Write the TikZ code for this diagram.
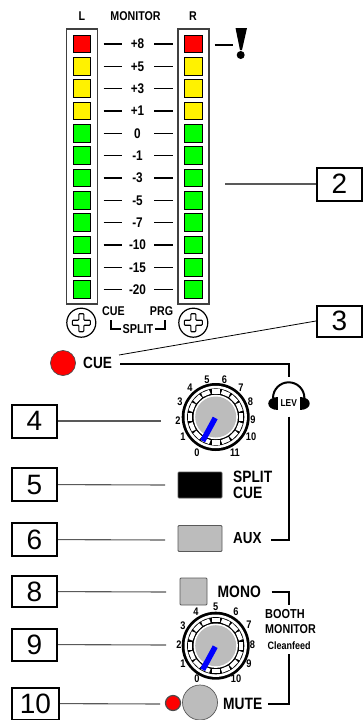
\documentclass[tikz,border=0pt]{standalone}
\usepackage{fontspec}
\setmainfont{Liberation Sans}[FakeStretch=0.84]
\newfontfamily\plainfont{Liberation Sans}
\definecolor{knobgrey}{RGB}{188,188,188}
\tikzset{
  lab/.style={font=\bfseries\fontsize{#1}{#1}\selectfont,inner sep=0pt,text=black},
  lab/.default=12.7,
  callout/.style={draw=black,line width=2pt,minimum width=45pt,inner sep=0pt,fill=white,font=\plainfont\fontsize{28}{28}\selectfont},
  leader/.style={draw=black!65,line width=1.1pt},
  bar/.style={draw=black,line width=2.2pt},
  tick/.style={draw=black,line width=1.6pt},
  meterbox/.style={draw=black!75,line width=1.1pt,fill=white,inner sep=0pt},
  ledbox/.style={draw=black,line width=1.1pt,minimum width=17.5pt,minimum height=17.5pt,inner sep=0pt},
  screw/.style={circle,draw=black,line width=1.2pt,minimum size=29pt,inner sep=0pt,fill=white},
  btn/.style={draw=black!65,line width=.9pt,inner sep=0pt,fill=knobgrey,rounded corners=1pt},
  knobnum/.style={font=\bfseries\fontsize{11}{11}\selectfont,inner sep=0pt},
}
\newcommand{\knobdraw}[3]{% x y name
  \begin{scope}[shift={(#1,#2)}]
    \fill[black] (0,0) circle (34);
    \fill[white] (0,0) circle (31.2);
    \fill[black] (0,0) circle (28.6);
    \foreach \a in {0,22.5,...,337.5}
      \fill[white,rotate=\a] (23.4,-4.2) rectangle (27.6,4.2);
    \draw[black,line width=.6pt] (0,0) circle (22.7);
    \fill[white] (0,0) circle (22.2);
    \node[circle,fill=knobgrey,minimum size=41pt,inner sep=0pt] (#3) at (0,0) {};
    \draw[blue,line width=5.5pt] (-0.5,1) -- (-13,24);
  \end{scope}
}
\begin{document}
\begin{tikzpicture}[x=1pt,y=-1pt]
\useasboundingbox (0,0) rectangle (362,720);
\fill[white] (0,0) rectangle (362,720);
% headers
\node[lab] (hL) at (82,16) {L};
\node[lab] (hM) at (135.5,16) {MONITOR};
\node[lab] (hR) at (193,16) {R};
% meters
\node[meterbox,minimum width=31pt,minimum height=275pt] (mL) at (81.8,166.5) {};
\node[meterbox,minimum width=31pt,minimum height=275pt] (mR) at (193.5,166.5) {};
\foreach \i/\c/\t in {0/red/+8,1/yellow/+5,2/yellow/+3,3/yellow/+1,4/green/0,5/green/-1,6/green/-3,7/green/-5,8/green/-7,9/green/-10,10/green/-15,11/green/-20}{
  \pgfmathsetmacro{\yy}{44+22.33*\i}
  \node[ledbox,fill=\c] (ll\i) at (81.8,\yy) {};
  \node[ledbox,fill=\c] (lr\i) at (193.5,\yy) {};
  \node[lab=14] (t\i) at (137.5,\yy) {\t};
  \coordinate (a\i) at (103.5,\yy); \coordinate (b\i) at (121.5,\yy);
  \coordinate (c\i) at (154,\yy); \coordinate (d\i) at (172.5,\yy);
  \draw[tick] (a\i) -- (b\i);
  \draw[tick] (c\i) -- (d\i);
}
% exclamation
\coordinate (e1) at (214.5,45); \coordinate (e2) at (233,45);
\draw[tick] (e1) -- (e2);
\fill[black] (235.5,28) -- (247,28) -- (242,50) -- (240,50) -- cycle;
\fill[black] (240.7,55) circle (4);
% screws
\foreach \n/\x in {sL/81.3,sR/193.3}{
  \node[screw] (\n) at (\x,322.7) {};
  \draw[black,line width=1.1pt,fill=white,rounded corners=.8pt]
    (\x-2.5,322.7-9) -- (\x+2.5,322.7-9) -- (\x+2.5,322.7-2.5) -- (\x+9,322.7-2.5) -- (\x+9,322.7+2.5) -- (\x+2.5,322.7+2.5) -- (\x+2.5,322.7+9) -- (\x-2.5,322.7+9) -- (\x-2.5,322.7+2.5) -- (\x-9,322.7+2.5) -- (\x-9,322.7-2.5) -- (\x-2.5,322.7-2.5) -- cycle;
}
\node[lab=12.7] (tcue) at (113.5,311) {CUE};
\node[lab=12.7] (tprg) at (161.5,311) {PRG};
\node[lab=12.9] (tsplit) at (138,329) {SPLIT};
\coordinate (sb1) at (111,320); \coordinate (sb2) at (111,329); \coordinate (sb3) at (121,329);
\coordinate (sb4) at (155,329); \coordinate (sb5) at (165,329); \coordinate (sb6) at (165,320);
\draw[black,line width=1.4pt] (sb1) -- (sb2) -- (sb3);
\draw[black,line width=1.4pt] (sb4) -- (sb5) -- (sb6);
% callouts top
\node[callout,minimum height=33pt] (n2) at (339.5,184) {2};
\coordinate (n2a) at (225,184);
\draw[leader] (n2a) -- (n2);
\node[callout,minimum height=31pt] (n3) at (339.5,321) {3};
\coordinate (n3a) at (119,355);
\draw[black,line width=.8pt] (n3a) -- (n3.west);
% cue
\node[circle,draw=black!70,line width=.7pt,fill=red,minimum size=25pt,inner sep=0pt] (cueled) at (63,363) {};
\node[lab=16.2,anchor=west] (tcue2) at (83,363) {CUE};
\coordinate (p1) at (120,364); \coordinate (p2) at (289,364); \coordinate (p3) at (289,376.5);
\draw[bar] (p1) -- (p2) -- (p3);
% headphones
\draw[black,line width=2pt] (273,398) arc (180:360:15.7);
\fill[black] (278,397) .. controls (264.5,397) and (264.5,410) .. (278,410) -- cycle;
\fill[black] (299.5,397) .. controls (313,397) and (313,410) .. (299.5,410) -- cycle;
\node[lab=10] (lev) at (288.7,403.5) {LEV};
\coordinate (p4) at (289,416.5); \coordinate (p5) at (289,540); \coordinate (p6) at (271,540);
\draw[bar] (p4) -- (p5) -- (p6);
% knob 1
\knobdraw{215.7}{417}{k1}
\foreach \t/\x/\y in {5/207/380,6/224.5/380,7/241/388,8/250.5/402,9/253/420,10/251/437,11/235/453,0/197/453,1/183/437,2/178/421,3/180/402,4/190/388}
  \node[knobnum] (ka\t) at (\x,\y) {\t};
% callouts middle
\node[callout,minimum height=33pt] (n4) at (34.5,421) {4};
\node[callout,minimum height=33pt] (n5) at (34.5,484.5) {5};
\node[callout,minimum height=33pt] (n6) at (34.5,539.5) {6};
\coordinate (n4a) at (161,421); \coordinate (n5a) at (165,485); \coordinate (n6a) at (165,540);
\draw[leader] (n4) -- (n4a);
\draw[leader] (n5) -- (n5a);
\draw[leader] (n6) -- (n6a);
\node[draw=black!65,line width=.9pt,fill=black,minimum width=44pt,minimum height=26pt,inner sep=0pt,rounded corners=1pt] (bsplit) at (200,485) {};
\node[btn,minimum width=44pt,minimum height=26pt] (baux) at (200,538.5) {};
\node[lab=16.4,anchor=west] (tsp) at (233,476.5) {SPLIT};
\node[lab=16.4,anchor=west] (tcu) at (233,493) {CUE};
\node[lab=16,anchor=west] (taux) at (233,538) {AUX};
% callouts lower
\node[callout,minimum height=31pt] (n8) at (34.5,591.5) {8};
\node[callout,minimum height=32pt] (n9) at (34.5,644.5) {9};
\node[callout,minimum width=47pt,minimum height=32pt] (n10) at (35.5,703.5) {10};
\coordinate (n8a) at (166,592); \coordinate (n9a) at (166,645); \coordinate (n10a) at (160,704);
\draw[leader] (n8) -- (n8a);
\draw[leader] (n9) -- (n9a);
\draw[leader] (n10) -- (n10a);
\node[btn,minimum width=27pt,minimum height=27pt] (bmono) at (193.5,591.5) {};
\node[lab=16.5,anchor=west] (tmono) at (217.5,591.5) {MONO};
\coordinate (q1) at (271.5,592); \coordinate (q2) at (289,592); \coordinate (q3) at (289,605);
\draw[bar] (q1) -- (q2) -- (q3);
\node[lab=13,anchor=west] (tbooth) at (265,614) {BOOTH};
\node[lab=12.8,anchor=west] (tmon) at (265,629) {MONITOR};
\node[lab=10.7,anchor=west] (tclean) at (267.5,645.5) {Cleanfeed};
\coordinate (q4) at (289,654); \coordinate (q5) at (289,704); \coordinate (q6) at (268,704);
\draw[bar] (q4) -- (q5) -- (q6);
% knob 2
\knobdraw{215.7}{645.7}{k2}
\foreach \t/\x/\y in {5/215.7/607,6/236/612,7/249/625,8/252.5/645,9/249/664,10/236/679,0/197/679,1/183/664,2/179/645,3/183/626,4/196/612}
  \node[knobnum] (kb\t) at (\x,\y) {\t};
% mute
\node[circle,draw=black!65,line width=.7pt,fill=knobgrey,minimum size=35pt,inner sep=0pt] (bmute) at (200,702.5) {};
\node[circle,draw=black!70,line width=1.2pt,fill=red,minimum size=15pt,inner sep=0pt] (mled) at (173,703) {};
\node[lab=16.4,anchor=west] (tmute) at (223,703.5) {MUTE};
\end{tikzpicture}
\end{document}
